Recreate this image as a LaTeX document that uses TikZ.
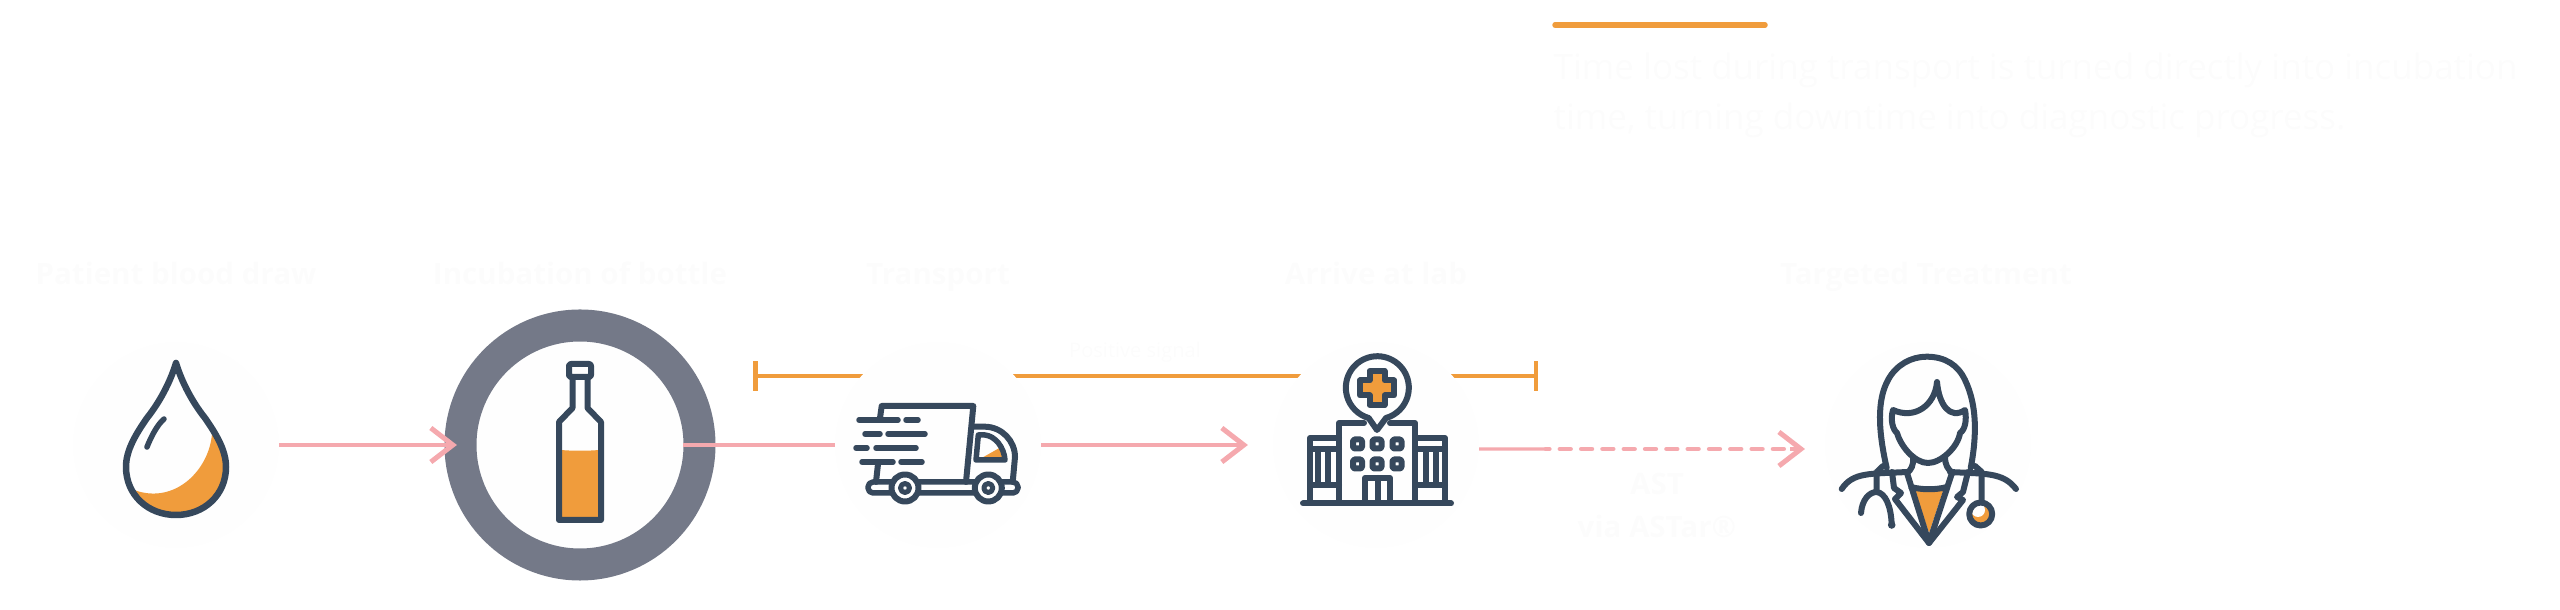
\documentclass[tikz,border=0pt]{standalone}
\usepackage{fontspec}
\setmainfont{Open Sans}
\usetikzlibrary{arrows.meta,positioning}
\definecolor{navy}{HTML}{36485C}
\definecolor{amber}{HTML}{F09C3C}
\definecolor{blush}{HTML}{F5A9AE}
\definecolor{slate}{HTML}{747988}
\definecolor{haze}{HTML}{FEFEFE}
\definecolor{ghost}{HTML}{FCFCFC}
\tikzset{
  blob/.style={circle, fill=haze, inner sep=0, outer sep=0, minimum size=2.06cm},
  icon/.style={draw=navy, line width=.06cm, line cap=round, line join=round},
  tint/.style={fill=amber, draw=none},
  flow/.style={->, draw=blush, line width=.04cm},
  heading/.style={text=ghost, anchor=base, inner sep=0, font=\fontsize{8.4pt}{10pt}\selectfont\bfseries},
  blurb/.style={text=ghost, anchor=base west, inner sep=0, font=\fontsize{9.95pt}{12pt}\selectfont},
}
\begin{document}
\begin{tikzpicture}[x=.01cm, y=-.01cm, >={Straight Barb[length=.22cm, width=.34cm, line width=.05cm]}]
\useasboundingbox (0,0) rectangle (2560,610);

% top rule and text
\coordinate (rulea) at (1555,25);
\coordinate (ruleb) at (1765,25);
\draw[amber, line width=.055cm, line cap=round](rulea)--(ruleb);
\node[blurb] (blurba) at (1553,80) {Time lost during transport is turned directly into incubation};
\node[blurb] (blurbb) at (1553,130) {time, turning downtime into diagnostic progress.};

% orange span, runs behind the circles
\coordinate (spana) at (753,376);
\coordinate (spanb) at (1538,376);
\draw[{Bar[width=.29cm, line width=.045cm]}-{Bar[width=.29cm, line width=.045cm]}, amber, line width=.045cm](spana)--(spanb);
\node[text=ghost, font=\fontsize{5.7pt}{8pt}\selectfont] (spanlabel) at (1135,352) {Positive signal};

% circles
\node[blob] (blood) at (176,445) {};
\node[blob] (bottle) at (580,445) {};
\node[blob] (truck) at (938,445) {};
\node[blob] (lab) at (1376,445) {};
\node[blob] (doctor) at (1928,445) {};
\draw[slate, line width=.32cm](bottle) circle[radius=119.5];

% headings
\node[heading] (bloodlabel) at (176,285) {Patient blood draw};
\node[heading] (bottlelabel) at (580,285) {Incubation of bottle};
\node[heading] (trucklabel) at (938,285) {Transport};
\node[heading] (lablabel) at (1376,285) {Arrive at lab};
\node[heading] (doctorlabel) at (1926,285) {Targeted Treatment};
\node[heading] (astlabel) at (1657,495) {AST};
\node[heading] (viaastar) at (1657,538) {via ASTar®};

% connectors
\draw[flow, shorten >=.2cm](blood.east)--(bottle.west);
\draw[draw=blush, line width=.04cm](bottle.east)--(truck.west);
\draw[flow](truck.east)--([xshift=-.25cm]lab.west);
\coordinate (astsplit) at (1546,449);
\coordinate (astend) at (1805,449);
\draw[blush, line width=.033cm]([yshift=-.04cm]lab.east)--(astsplit);
\draw[blush, line width=.048cm, line cap=round, dash pattern=on .105cm off .108cm, dash phase=.073cm](astsplit)--(1795,449);
\draw[flow](1790,449)--(astend);

% drop
\fill[tint](212,434) .. controls (209,470) and (175,505) .. (134,490) .. controls (144,506) and (160,515) .. (176,515) .. controls (204,515) and (226,495) .. (226,467) .. controls (226,455) and (220,445) .. (212,434) -- cycle;
\draw[icon, line width=.065cm](176,363) .. controls (182,383) and (193,403) .. (205,418) .. controls (216,434) and (226,450) .. (226,467) .. controls (226,495) and (204,515) .. (176,515) .. controls (148,515) and (126,495) .. (126,467) .. controls (126,450) and (136,434) .. (147,418) .. controls (159,403) and (170,383) .. (176,363) -- cycle;
\draw[icon, line width=.055cm](164,419) .. controls (157,425) and (151,437) .. (147,447);

% bottle
\fill[tint](561,450) .. controls (572,451) and (588,451) .. (599,450) -- (599,518) -- (561,518) -- cycle;
\draw[icon, rounded corners=.02cm](569,377)--(569,364)--(591,364)--(591,377)--cycle;
\draw[icon](572.5,377)--(572.5,408)--(559,422)--(559,520)--(601,520)--(601,422)--(587.5,408)--(587.5,377);

% truck
\draw[icon](880,418)--(881.7,406)--(973.3,406)--(966,482);
\draw[icon](878,464)--(876,482);
\foreach \yy/\aa/\ab/\ba/\bb in {420/859/898/906/918, 434/865/880/888/925, 448/856/867/876/916, 462/862/893/901/922}
  \draw[icon, line width=.055cm](\aa,\yy)--(\ab,\yy) (\ba,\yy)--(\bb,\yy);
\draw[icon](973,426.7)--(985,426.7) .. controls (1002,427) and (1015,441) .. (1015,457) -- (1012.7,482);
\fill[tint](981.7,458)--(1001.7,446.7)--(1004,459)--cycle;
\draw[icon, line width=.055cm](978.3,435)--(985,435) .. controls (995,436) and (1004,447) .. (1005,460)--(976,460)--cycle;
\draw[icon, line width=.055cm, rounded corners=.05cm](868,482)rectangle(1018,493);
\foreach \xx in {905,988.3}{
  \draw[icon, fill=haze](\xx,488) circle[radius=13.5];
  \draw[icon, line width=.05cm](\xx,488) circle[radius=4.5];
}

% hospital
\draw[icon](1377,430)--(1386,418) arc[start angle=74, end angle=-254, radius=31.5]--cycle;
\draw[icon, fill=amber](1369.5,371)--(1384.5,371)--(1384.5,380.5)--(1394,380.5)--(1394,395.5)--(1384.5,395.5)--(1384.5,405)--(1369.5,405)--(1369.5,395.5)--(1360,395.5)--(1360,380.5)--(1369.5,380.5)--cycle;
\draw[icon](1364,423)--(1339,423)--(1339,502);
\draw[icon](1390,423)--(1415,423)--(1415,502);
\draw[icon](1303,503.5)--(1451,503.5);
\draw[icon](1339,438)--(1310,438)--(1310,502) (1310,449)--(1339,449) (1310,485)--(1339,485) (1318,449)--(1318,485) (1328,449)--(1328,485);
\draw[icon](1415,438)--(1445,438)--(1445,502) (1415,449)--(1445,449) (1415,485)--(1445,485) (1426,449)--(1426,485) (1436,449)--(1436,485);
\foreach \xx in {1357.5,1377,1397}
  \foreach \yy in {444,464}
    \draw[icon, rounded corners=.015cm](\xx-4.5,\yy-4.5) rectangle (\xx+4.5,\yy+4.5);
\draw[icon](1365,502)--(1365,478)--(1390,478)--(1390,502) (1377.5,478)--(1377.5,502);

% doctor
\draw[icon](1886.7,468) .. controls (1878,430) and (1877,400) .. (1888,380) .. controls (1896,365) and (1911,356.7) .. (1926.7,356.7) .. controls (1945,356.7) and (1958,365) .. (1965,380) .. controls (1977,405) and (1977,435) .. (1970.7,468);
\draw[icon](1937,382) .. controls (1935,405) and (1915,420) .. (1893,410) .. controls (1890,420) and (1893,430) .. (1897,433) .. controls (1901,447) and (1915,463) .. (1928,463) .. controls (1941,463) and (1958,447) .. (1960,433) .. controls (1965,430) and (1967,420) .. (1965,410) .. controls (1950,420) and (1939,405) .. (1937,382) -- cycle;
\draw[icon](1913,457) .. controls (1914,465) and (1911,470) .. (1907,473) (1945,457) .. controls (1945,465) and (1948,470) .. (1953,473);
\draw[icon](1841.7,489) .. controls (1853,472) and (1870,474) .. (1907,472) (2016,489) .. controls (2003,472) and (1985,474) .. (1950,472);
\fill[tint](1915,491)--(1943,491)--(1929,533)--cycle;
\draw[icon](1907,473)--(1929,543)--(1952,473) (1911,487) .. controls (1922,490) and (1936,490) .. (1947,487);
\draw[icon](1892,472)--(1894,488)--(1901,493)--(1895,499)--(1929,543)--(1963,500)--(1957,497)--(1963,492)--(1968,472);
\draw[icon](1883,466)--(1876.7,472)--(1876.7,492) (1861,513) .. controls (1862,500) and (1869,492) .. (1876.7,492) .. controls (1885,493) and (1891,505) .. (1891.7,525);
\fill[navy](1891.7,525) circle[radius=3.8];
\draw[icon](1975,466)--(1981.7,472)--(1981.7,501);
\fill[tint](1980.7,514) circle[radius=11];
\fill[haze](1978,510) circle[radius=7];
\draw[icon](1980.7,514) circle[radius=11.5];
\end{tikzpicture}
\end{document}
